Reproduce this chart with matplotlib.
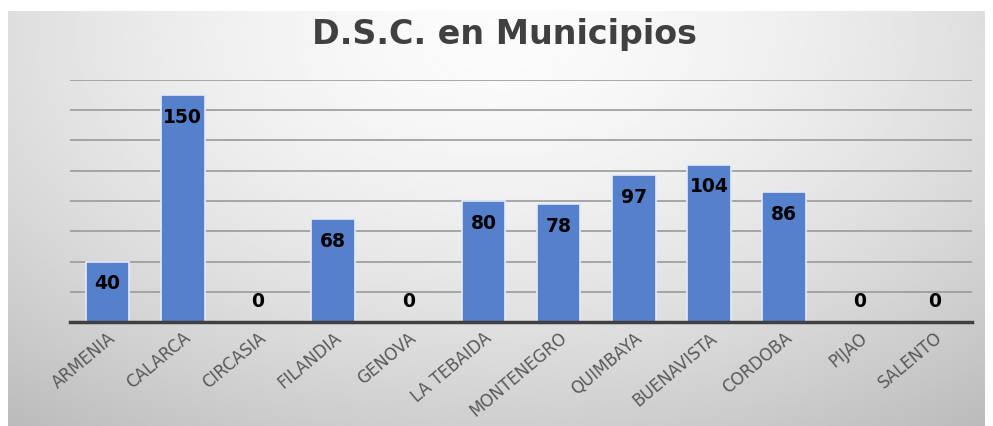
import numpy as np
import matplotlib
matplotlib.use("Agg")
import matplotlib.pyplot as plt

# datos del grafico
municipios = ["ARMENIA", "CALARCA", "CIRCASIA", "FILANDIA", "GENOVA", "LA TEBAIDA",
              "MONTENEGRO", "QUIMBAYA", "BUENAVISTA", "CORDOBA", "PIJAO", "SALENTO"]
casos = [40, 150, 0, 68, 0, 80, 78, 97, 104, 86, 0, 0]
titulo = "D.S.C. en Municipios"

W, H = 993, 426
fig = plt.figure(figsize=(W / 100, H / 100), dpi=100)
fig.patch.set_facecolor("white")

# fondo con degradado radial (gris en los bordes, claro arriba al centro)
bg = fig.add_axes([8 / W, 0, (985 - 8) / W, (426 - 11) / H])
yy, xx = np.mgrid[0:1:200j, 0:1:400j]
d = np.sqrt(((xx - 0.5) / 0.75) ** 2 + ((yy - 0.05) / 1.1) ** 2)
val = 0.985 - 0.22 * np.clip(d, 0, 1.2) ** 1.6
bg.imshow(val, cmap="gray", vmin=0, vmax=1, aspect="auto", extent=[0, 1, 1, 0])
bg.axis("off")

ax = fig.add_axes([70 / W, (H - 322) / H, 902 / W, (322 - 80) / H])
ax.patch.set_alpha(0)
x = np.arange(len(municipios))
ax.bar(x, casos, width=0.58, color="#5580cc", edgecolor="#e4ecf8", linewidth=1.2, zorder=3)
ax.set_xlim(-0.5, len(municipios) - 0.5)
ax.set_ylim(0, 160)
ax.set_yticks(np.arange(20, 161, 20))
ax.yaxis.grid(True, color="#9a9a9a", linewidth=1.2, zorder=0)
ax.tick_params(axis="y", left=False, labelleft=False)
ax.tick_params(axis="x", length=0, pad=5)
for s in ["top", "right", "left"]:
    ax.spines[s].set_visible(False)
ax.spines["bottom"].set_color("#404040")
ax.spines["bottom"].set_linewidth(2.5)
ax.spines["bottom"].set_zorder(4)

ax.set_xticks(x)
ax.set_xticklabels(municipios, rotation=40, ha="right", rotation_mode="anchor",
                   fontsize=12, color="#595959", family="DejaVu Sans")

# etiquetas de valor dentro de la barra
for xi, v in zip(x, casos):
    off = -16 if v > 0 else 15
    ax.annotate(str(v), (xi, v), xytext=(0, off), textcoords="offset points",
                ha="center", va="center", fontsize=13.5, fontweight="bold",
                color="black", family="DejaVu Sans", zorder=5)

fig.text(0.508, 0.918, titulo, ha="center", va="center", fontsize=24,
         fontweight="bold", color="#404040", family="DejaVu Sans")

fig.savefig("out.png", dpi=100)
